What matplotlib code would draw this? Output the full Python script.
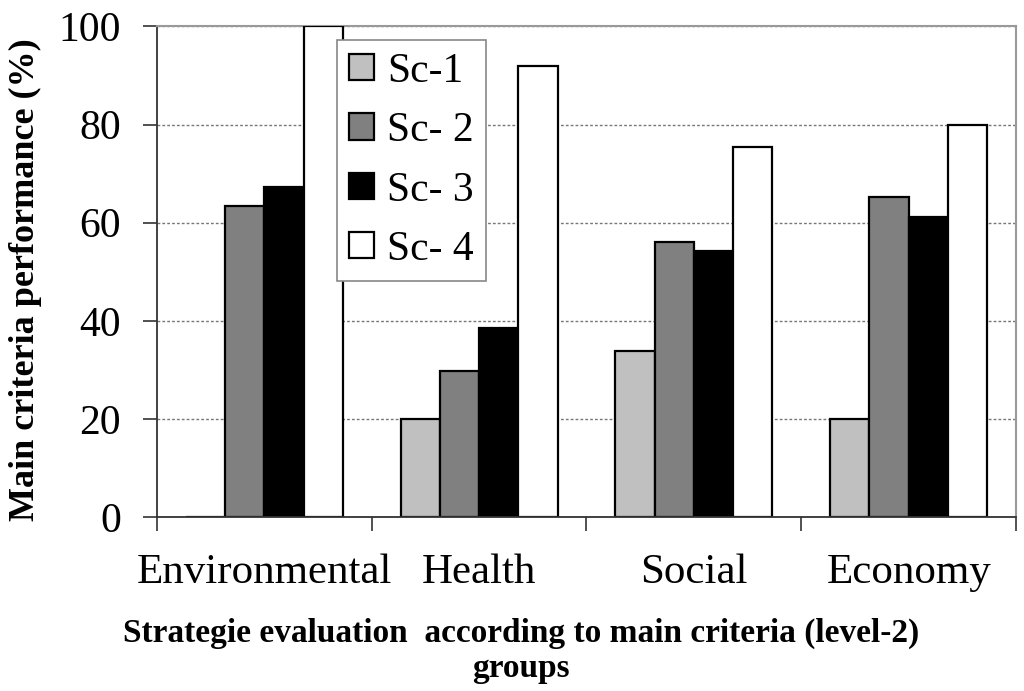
import matplotlib
matplotlib.use("Agg")
import matplotlib.pyplot as plt
import numpy as np

### données
categories = ["Environmental", "Health", "Social", "Economy"]
scenarios = ["Sc-1", "Sc- 2", "Sc- 3", "Sc- 4"]
sc1 = [0, 20, 33.8, 20]
sc2 = [63.3, 29.7, 56.1, 65.2]
sc3 = [67.3, 38.5, 54.2, 61.1]
sc4 = [100, 92, 75.5, 80]
couleurs = ["#c0c0c0", "#808080", "#000000", "#ffffff"]

plt.rcParams['font.family'] = ['Liberation Serif', 'DejaVu Serif']

fig = plt.figure(figsize=(10.24, 6.91), dpi=100)
ax = fig.add_axes([0.1533, 0.2518, 0.8389, 0.7099])

x = np.arange(len(categories))
w = 0.183
series = [sc1, sc2, sc3, sc4]
for i in range(len(series)):
    ax.bar(x + (i - 1.5) * w, series[i], width=w, color=couleurs[i],
           edgecolor="black", linewidth=1.6, label=scenarios[i], zorder=3)

ax.set_xlim(-0.5, 3.5)
ax.set_ylim(0, 100)
ax.set_yticks([0, 20, 40, 60, 80, 100])
ax.grid(axis="y", ls=(0, (2, 1.5)), color="#777777", lw=1.0, zorder=0)

# ticks majeurs entre les groupes, labels au centre (ticks mineurs)
ax.set_xticks(np.arange(-0.5, 4, 1))
ax.set_xticklabels([])
ax.set_xticks(x, minor=True)
ax.set_xticklabels(categories, minor=True, fontsize=31)
ax.tick_params(axis="x", which="minor", length=0, pad=26)
ax.tick_params(axis="x", which="major", length=10, width=1.2, color="#333333")
ax.tick_params(axis="y", length=10, width=1.2, color="#333333", labelsize=30, pad=16)

for s in ["top", "right"]:
    ax.spines[s].set_color("#999999")
    ax.spines[s].set_linewidth(1.5)
for s in ["left", "bottom"]:
    ax.spines[s].set_color("#333333")
    ax.spines[s].set_linewidth(1.3)
ax.spines["bottom"].set_zorder(4)

leg = ax.legend(loc="upper left", bbox_to_anchor=(0.2095, 0.9725), borderaxespad=0,
                fontsize=30, fancybox=False, edgecolor="#888888", framealpha=1,
                handlelength=0.6, handleheight=0.6, handletextpad=0.3,
                labelspacing=0.5, borderpad=0.3)
leg.get_frame().set_linewidth(1.2)
leg.set_zorder(5)

fig.text(0.025, 0.595, "Main criteria performance (%)", rotation=90, ha="center",
         va="center", fontsize=26, fontweight="bold")
fig.text(0.509, 0.058, "Strategie evaluation  according to main criteria (level-2)\ngroups",
         ha="center", va="center", fontsize=24, fontweight="bold", linespacing=1.2)

fig.savefig("out.png", dpi=100)
